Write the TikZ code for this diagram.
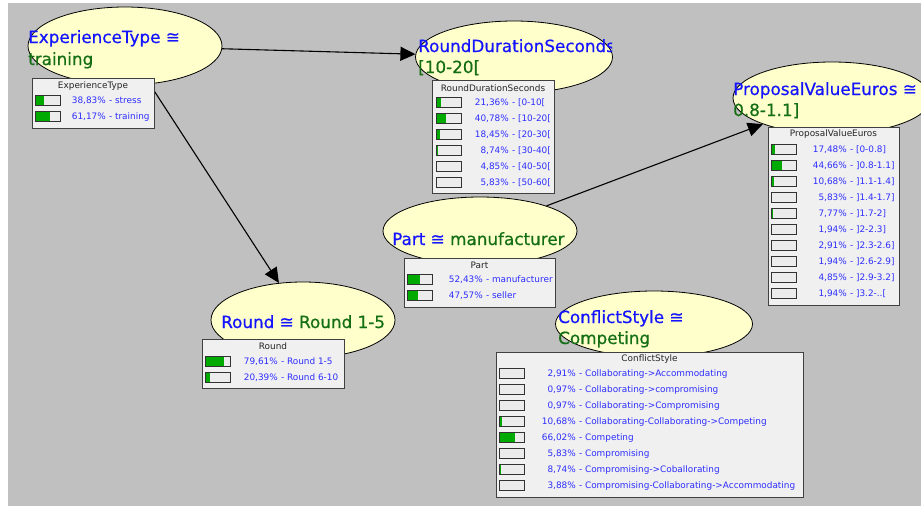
\documentclass[tikz,border=0pt]{standalone}
\usepackage{fontspec}
\setmainfont{DejaVu Sans}
\newfontfamily\bntitlefont[FakeBold=0.6]{DejaVu Sans}
\usetikzlibrary{shapes.geometric,arrows.meta}
\definecolor{bgc}{RGB}{192,192,192}
\definecolor{ellfill}{RGB}{255,255,204}
\definecolor{tblue}{RGB}{20,20,255}
\definecolor{tgreen}{RGB}{20,110,20}
\definecolor{pblue}{RGB}{45,45,255}
\definecolor{boxfill}{RGB}{240,240,240}
\definecolor{boxline}{RGB}{64,64,64}
\definecolor{bargreen}{RGB}{0,170,0}
\definecolor{barbgc}{RGB}{236,236,236}
\tikzset{
  bnell/.style={ellipse,draw=black,line width=0.8pt,fill=ellfill,inner sep=0pt},
  ttl/.style={inner sep=0pt,font=\bntitlefont\fontsize{16.8}{20}\selectfont},
  tbox/.style={draw=boxline,fill=boxfill,line width=0.9pt,inner sep=0pt,anchor=north west},
  tabtitle/.style={inner sep=0pt,font=\fontsize{8.9}{10}\selectfont,text=black!85},
  pcttext/.style={inner sep=0pt,font=\fontsize{8.9}{10}\selectfont,text=pblue},
  barbg/.style={fill=barbgc},
  barframe/.style={draw=black!80,line width=1pt},
  arr/.style={line width=1.1pt,-{Triangle[length=15pt,width=14pt]}}
}
% id, bar left x, row y, fraction, pct right x, pct, label
\newcommand\bnrow[7]{%
  \fill[barbg] (#2,#3-5) rectangle ++(25,10);
  \fill[bargreen] (#2,#3-5) rectangle ({#2+24*#4},#3+5);
  \draw[barframe] (#2,#3-5) rectangle ++(25,10);
  \node[pcttext,anchor=base east] (#1p) at (#5,#3+3) {#6};
  \node[pcttext,anchor=base west] (#1l) at (#5,#3+3) {\ -\ #7};
}
% id, x1, y1, x2, y2, title y, title
\newcommand\bntable[7]{%
  \node[tbox,minimum width={(#4-#2)*1pt},minimum height={(#5-#3)*1pt}] (#1) at (#2,#3) {};
  \node[tabtitle] (#1t) at ({(#2+#4)/2},#6) {#7};
}
\begin{document}
\begin{tikzpicture}[x=1pt,y=-1pt]
\useasboundingbox (0,0) rectangle (921,506);
\clip (0,0) rectangle (921,506);
\fill[bgc] (8,3) rectangle (921,506);

% ellipses
\node[bnell,minimum width=194pt,minimum height=78pt] (et) at (125,46) {};
\node[bnell,minimum width=197pt,minimum height=72pt] (rd) at (514,57) {};
\node[bnell,minimum width=198pt,minimum height=72pt] (pv) at (832,98) {};
\node[bnell,minimum width=194pt,minimum height=68pt] (part) at (480,231) {};
\node[bnell,minimum width=184pt,minimum height=76pt] (round) at (303,320) {};
\node[bnell,minimum width=197pt,minimum height=66pt] (cs) at (654,324) {};

% ellipse titles
\node[ttl,anchor=base west,text=tblue] (ett) at (28,43) {ExperienceType ≅};
\node[ttl,anchor=base west,text=tgreen] (etv) at (28,65) {training};
\begin{scope}
\clip (410,20) rectangle (612,100);
\node[ttl,anchor=base west,text=tblue] (rdt) at (418,52) {RoundDurationSeconds ≅};
\end{scope}
\node[ttl,anchor=base west,text=tgreen] (rdv) at (418,73) {[10-20[};
\node[ttl,anchor=base west,text=tblue] (pvt) at (733,95) {ProposalValueEuros ≅};
\node[ttl,anchor=base west,text=tgreen] (pvv) at (733,116) {0.8-1.1]};
\node[ttl,anchor=base west] (partt) at (392,245) {\textcolor{tblue}{Part ≅} \textcolor{tgreen}{manufacturer}};
\node[ttl,anchor=base west] (roundt) at (221,328) {\textcolor{tblue}{Round ≅} \textcolor{tgreen}{Round 1-5}};
\node[ttl,anchor=base west,text=tblue] (cst) at (558,323) {ConflictStyle ≅};
\node[ttl,anchor=base west,text=tgreen] (csv) at (558,344) {Competing};

% arrows
\draw[arr] (et) -- (rd);
\draw[arr] (et) -- (round);
\draw[arr] (part) -- (pv);

% ExperienceType table
\bntable{etb}{32}{78}{154}{128}{86}{ExperienceType}
\bnrow{et1}{35}{100}{0.3883}{106}{38,83\%}{stress}
\bnrow{et2}{35}{116}{0.6117}{106}{61,17\%}{training}

% RoundDurationSeconds table
\bntable{rdb}{432}{80}{554}{193}{88}{RoundDurationSeconds}
\bnrow{rd1}{436}{102}{0.2136}{509}{21,36\%}{[0-10[}
\bnrow{rd2}{436}{118}{0.4078}{509}{40,78\%}{[10-20[}
\bnrow{rd3}{436}{134}{0.1845}{509}{18,45\%}{[20-30[}
\bnrow{rd4}{436}{150}{0.0874}{509}{8,74\%}{[30-40[}
\bnrow{rd5}{436}{166}{0.0485}{509}{4,85\%}{[40-50[}
\bnrow{rd6}{436}{182}{0.0583}{509}{5,83\%}{[50-60[}

% ProposalValueEuros table
\bntable{pvb}{768}{127}{899}{305}{134}{ProposalValueEuros}
\bnrow{pv1}{771}{149}{0.1748}{847}{17,48\%}{[0-0.8]}
\bnrow{pv2}{771}{165}{0.4466}{847}{44,66\%}{]0.8-1.1]}
\bnrow{pv3}{771}{181}{0.1068}{847}{10,68\%}{]1.1-1.4]}
\bnrow{pv4}{771}{197}{0.0583}{847}{5,83\%}{]1.4-1.7]}
\bnrow{pv5}{771}{213}{0.0777}{847}{7,77\%}{]1.7-2]}
\bnrow{pv6}{771}{229}{0.0194}{847}{1,94\%}{]2-2.3]}
\bnrow{pv7}{771}{245}{0.0291}{847}{2,91\%}{]2.3-2.6]}
\bnrow{pv8}{771}{261}{0.0194}{847}{1,94\%}{]2.6-2.9]}
\bnrow{pv9}{771}{277}{0.0485}{847}{4,85\%}{]2.9-3.2]}
\bnrow{pv10}{771}{293}{0.0194}{847}{1,94\%}{]3.2-..[}

% Part table
\bntable{partb}{404}{258}{555}{307}{265}{Part}
\bnrow{pa1}{407}{279}{0.5243}{483}{52,43\%}{manufacturer}
\bnrow{pa2}{407}{295}{0.4757}{483}{47,57\%}{seller}

% Round table
\bntable{roundb}{202}{339}{344}{388}{346}{Round}
\bnrow{ro1}{205}{361}{0.7961}{278}{79,61\%}{Round 1-5}
\bnrow{ro2}{205}{377}{0.2039}{278}{20,39\%}{Round 6-10}

% ConflictStyle table
\bntable{csb}{496}{352}{803}{497}{359}{ConflictStyle}
\bnrow{cs1}{499}{373}{0.0291}{576}{2,91\%}{Collaborating->Accommodating}
\bnrow{cs2}{499}{389}{0.0097}{576}{0,97\%}{Collaborating->compromising}
\bnrow{cs3}{499}{405}{0.0097}{576}{0,97\%}{Collaborating->Compromising}
\bnrow{cs4}{499}{421}{0.1068}{576}{10,68\%}{Collaborating-Collaborating->Competing}
\bnrow{cs5}{499}{437}{0.6602}{576}{66,02\%}{Competing}
\bnrow{cs6}{499}{453}{0.0583}{576}{5,83\%}{Compromising}
\bnrow{cs7}{499}{469}{0.0874}{576}{8,74\%}{Compromising->Coballorating}
\bnrow{cs8}{499}{485}{0.0388}{576}{3,88\%}{Compromising-Collaborating->Accommodating}
\end{tikzpicture}
\end{document}
